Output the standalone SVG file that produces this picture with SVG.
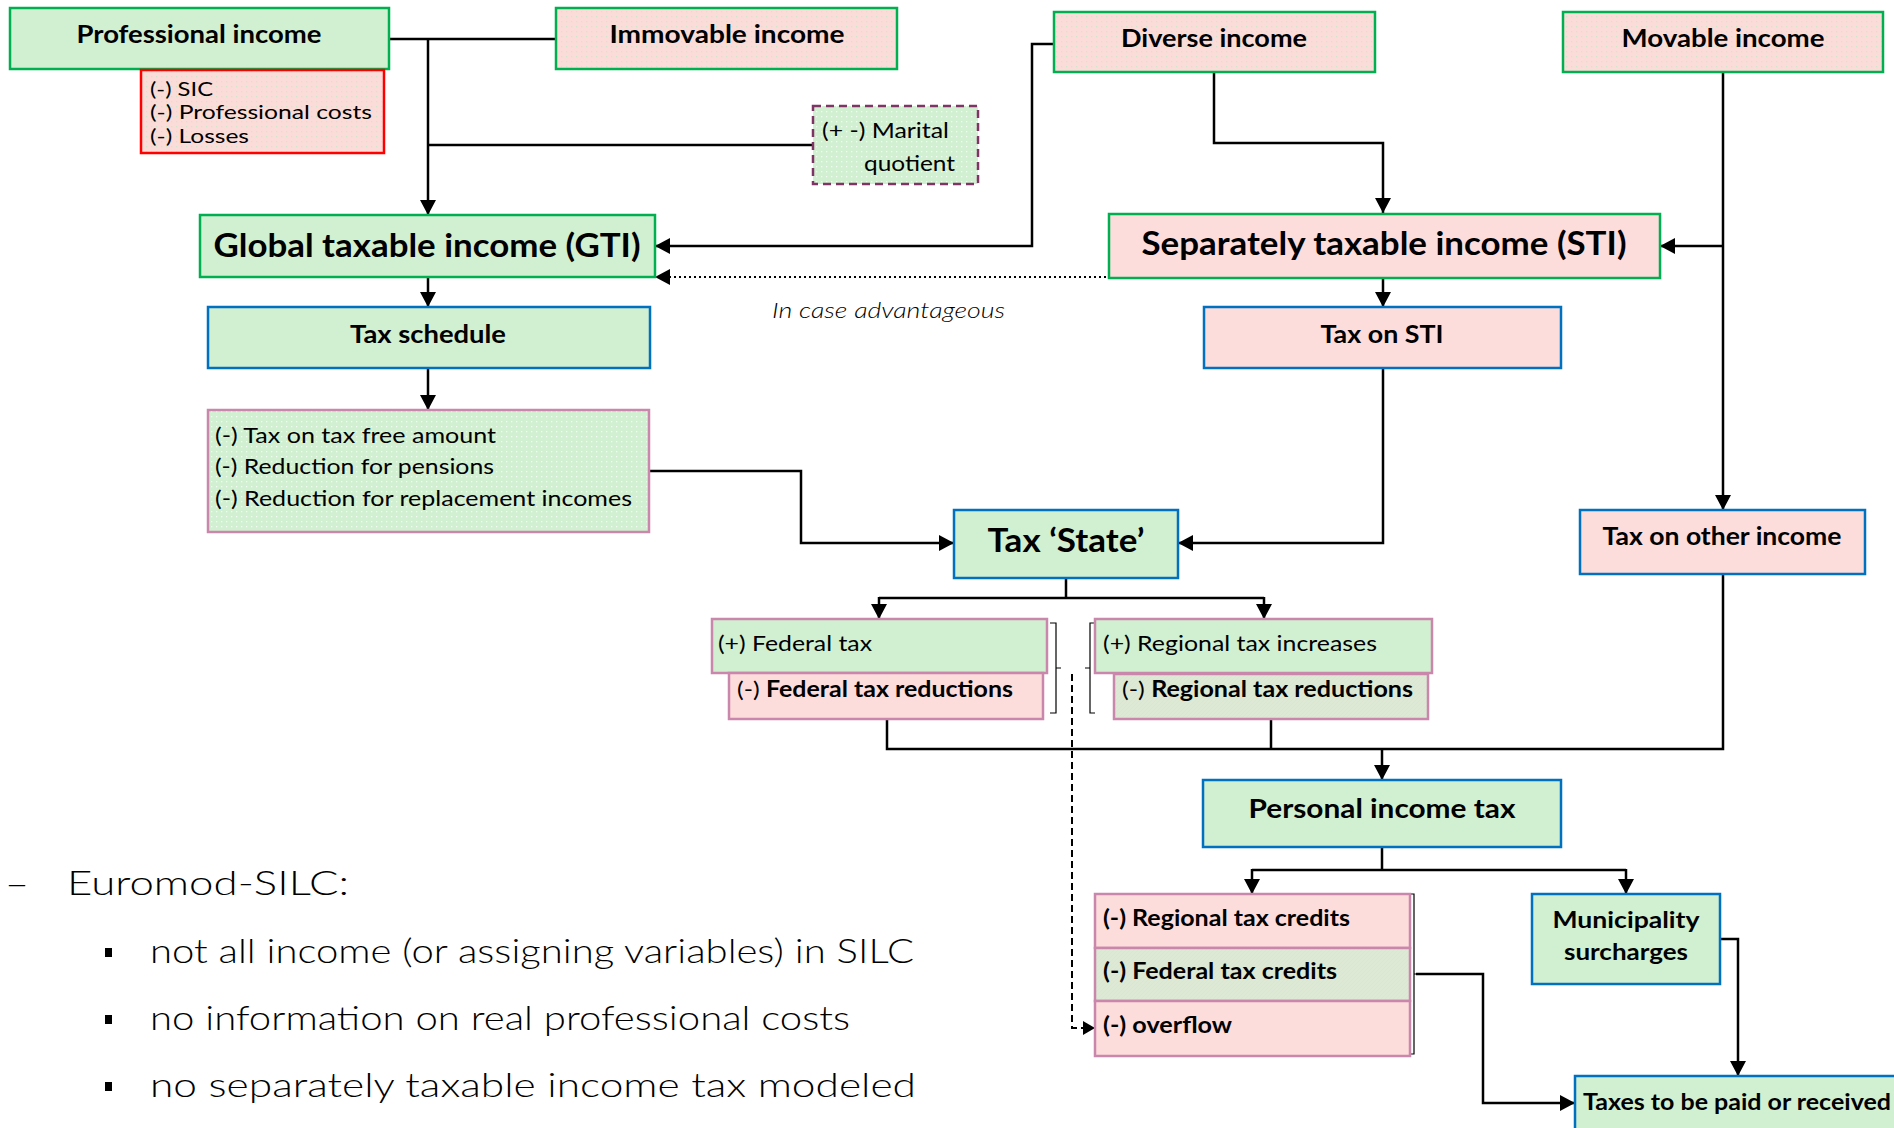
<svg xmlns="http://www.w3.org/2000/svg" width="1894" height="1128" viewBox="0 0 1894 1128">
<style>
text{font-family:Lato,"Open Sans","Liberation Sans",sans-serif;fill:#000}
.b{font-weight:700}
.r{font-weight:400}
.l{font-weight:300}
.it{font-weight:300;font-style:italic}
.gbox{fill:#d1efd1}
.pbox{fill:#fddcdc}
.sg{stroke:#00b050;stroke-width:2.5}
.sb{stroke:#0070c0;stroke-width:2.5}
.sp{stroke:#c987ab;stroke-width:2.5}
.conn{fill:none;stroke:#000;stroke-width:2.5}
.thin{fill:none;stroke:#000;stroke-width:1.2}
</style>
<defs>
<pattern id="pinkDots" width="5" height="5" patternUnits="userSpaceOnUse">
<rect width="5" height="5" fill="#fcdcd8"/>
<rect x="1" y="1" width="1.2" height="1.2" fill="#cfe8cc"/>
</pattern>
<pattern id="greenDots" width="5" height="5" patternUnits="userSpaceOnUse">
<rect width="5" height="5" fill="#d1efd1"/>
<rect x="1" y="1" width="1.3" height="1.3" fill="#f4fbf2"/>
</pattern>
<pattern id="mixHatch" width="4" height="4" patternUnits="userSpaceOnUse">
<rect width="4" height="4" fill="#dde9d5"/>
<path d="M0,4 L4,0" stroke="#f2d9d6" stroke-width="1"/>
</pattern>
<marker id="arr" viewBox="0 0 15 16" refX="15" refY="8" markerWidth="15" markerHeight="16" markerUnits="userSpaceOnUse" orient="auto">
<path d="M0,0 L15,8 L0,16 z" fill="#000"/>
</marker>
<marker id="arrS" viewBox="0 0 12 14" refX="12" refY="7" markerWidth="12" markerHeight="14" markerUnits="userSpaceOnUse" orient="auto">
<path d="M0,0 L12,7 L0,14 z" fill="#000"/>
</marker>
</defs>

<g id="connectors">
<path class="conn" d="M389,39 H556"/>
<path class="conn" d="M428,39 V215" marker-end="url(#arr)"/>
<path class="conn" d="M428,145 H813"/>
<path class="conn" d="M1053,44 H1032 V246 H655" marker-end="url(#arr)"/>
<path fill="none" stroke="#000" stroke-width="2.2" stroke-dasharray="2,3" d="M1111,277 H655" marker-end="url(#arr)"/>
<path class="conn" d="M1214,72 V143 H1383 V213" marker-end="url(#arr)"/>
<path class="conn" d="M1723,72 V510" marker-end="url(#arr)"/>
<path class="conn" d="M1723,246 H1660" marker-end="url(#arr)"/>
<path class="conn" d="M428,277 V307" marker-end="url(#arr)"/>
<path class="conn" d="M1383,278 V307" marker-end="url(#arr)"/>
<path class="conn" d="M428,368 V410" marker-end="url(#arr)"/>
<path class="conn" d="M649,471 H801 V543 H954" marker-end="url(#arr)"/>
<path class="conn" d="M1383,368 V543 H1178" marker-end="url(#arr)"/>
<path class="conn" d="M1066,578 V598 M879,598 H1264"/>
<path class="conn" d="M879,597 V619" marker-end="url(#arr)"/>
<path class="conn" d="M1264,597 V619" marker-end="url(#arr)"/>
<path class="conn" d="M887,719 V749 H1723 V574 M1271,719 V749"/>
<path class="conn" d="M1382,748 V780" marker-end="url(#arr)"/>
<path class="conn" d="M1382,847 V870 M1252,870 H1626"/>
<path class="conn" d="M1252,869 V894" marker-end="url(#arr)"/>
<path class="conn" d="M1626,869 V894" marker-end="url(#arr)"/>
<path class="conn" d="M1416,974 H1483 V1103 H1575" marker-end="url(#arr)"/>
<path class="conn" d="M1720,939 H1738 V1076" marker-end="url(#arr)"/>
<path fill="none" stroke="#000" stroke-width="2" stroke-dasharray="7,4" d="M1072,674 V1028 H1095" marker-end="url(#arrS)"/>
<path class="thin" d="M1050,623 H1056 V713 H1050 M1056,668 H1061"/>
<path class="thin" d="M1095,623 H1090 V713 H1095 M1090,668 H1085"/>
<path class="thin" d="M1410,894 H1414 V1054 H1410 M1414,974 H1417"/>
</g>

<g id="professional-income">
<rect x="10" y="8" width="379" height="61" class="gbox sg"/>
<text class="b" x="199" y="43" font-size="24" text-anchor="middle" textLength="245" lengthAdjust="spacingAndGlyphs">Professional income</text>
</g>
<g id="deductions">
<rect x="141" y="70" width="243" height="83" fill="url(#pinkDots)" stroke="#ff0000" stroke-width="2.5"/>
<text class="r" x="150" y="96" font-size="20" textLength="63" lengthAdjust="spacingAndGlyphs">(-) SIC</text>
<text class="r" x="150" y="119" font-size="20" textLength="222" lengthAdjust="spacingAndGlyphs">(-) Professional costs</text>
<text class="r" x="150" y="143" font-size="20" textLength="99" lengthAdjust="spacingAndGlyphs">(-) Losses</text>
</g>
<g id="immovable-income">
<rect x="556" y="8" width="341" height="61" fill="url(#pinkDots)" class="sg"/>
<text class="b" x="727" y="43" font-size="24" text-anchor="middle" textLength="235" lengthAdjust="spacingAndGlyphs">Immovable income</text>
</g>
<g id="marital-quotient">
<rect x="813" y="106" width="165" height="78" fill="url(#greenDots)" stroke="#7f3466" stroke-width="2.5" stroke-dasharray="8,5"/>
<text class="r" x="822" y="138" font-size="22" textLength="127" lengthAdjust="spacingAndGlyphs">(+ -) Marital</text>
<text class="r" x="864" y="171" font-size="22" textLength="91" lengthAdjust="spacingAndGlyphs">quotient</text>
</g>
<g id="diverse-income">
<rect x="1054" y="12" width="321" height="60" fill="url(#pinkDots)" class="sg"/>
<text class="b" x="1214" y="47" font-size="24" text-anchor="middle" textLength="186" lengthAdjust="spacingAndGlyphs">Diverse income</text>
</g>
<g id="movable-income">
<rect x="1563" y="12" width="320" height="60" fill="url(#pinkDots)" class="sg"/>
<text class="b" x="1723" y="47" font-size="24" text-anchor="middle" textLength="203" lengthAdjust="spacingAndGlyphs">Movable income</text>
</g>
<g id="gti">
<rect x="200" y="215" width="455" height="62" class="gbox sg"/>
<text class="b" x="427" y="257" font-size="33" text-anchor="middle" textLength="427" lengthAdjust="spacingAndGlyphs">Global taxable income (GTI)</text>
</g>
<g id="sti">
<rect x="1109" y="214" width="551" height="64" class="pbox sg"/>
<text class="b" x="1384" y="255" font-size="33" text-anchor="middle" textLength="485" lengthAdjust="spacingAndGlyphs">Separately taxable income (STI)</text>
</g>
<g id="in-case-advantageous">
<text class="it" x="772" y="318" font-size="22" textLength="233" lengthAdjust="spacingAndGlyphs">In case advantageous</text>
</g>
<g id="tax-schedule">
<rect x="208" y="307" width="442" height="61" class="gbox sb"/>
<text class="b" x="428" y="343" font-size="24" text-anchor="middle" textLength="156" lengthAdjust="spacingAndGlyphs">Tax schedule</text>
</g>
<g id="tax-on-sti">
<rect x="1204" y="307" width="357" height="61" class="pbox sb"/>
<text class="b" x="1382" y="343" font-size="24" text-anchor="middle" textLength="123" lengthAdjust="spacingAndGlyphs">Tax on STI</text>
</g>
<g id="reductions">
<rect x="208" y="410" width="441" height="122" fill="url(#greenDots)" class="sp"/>
<text class="r" x="215" y="443" font-size="22" textLength="281" lengthAdjust="spacingAndGlyphs">(-) Tax on tax free amount</text>
<text class="r" x="215" y="474" font-size="22" textLength="279" lengthAdjust="spacingAndGlyphs">(-) Reduction for pensions</text>
<text class="r" x="215" y="506" font-size="22" textLength="417" lengthAdjust="spacingAndGlyphs">(-) Reduction for replacement incomes</text>
</g>
<g id="tax-state">
<rect x="954" y="510" width="224" height="68" class="gbox sb"/>
<text class="b" x="1066" y="552" font-size="32" text-anchor="middle" textLength="157" lengthAdjust="spacingAndGlyphs">Tax ‘State’</text>
</g>
<g id="tax-on-other-income">
<rect x="1580" y="510" width="285" height="64" class="pbox sb"/>
<text class="b" x="1722" y="545" font-size="24" text-anchor="middle" textLength="239" lengthAdjust="spacingAndGlyphs">Tax on other income</text>
</g>
<g id="federal-tax">
<rect x="712" y="619" width="335" height="54" class="gbox sp"/>
<text class="r" x="718" y="651" font-size="22" textLength="154" lengthAdjust="spacingAndGlyphs">(+) Federal tax</text>
</g>
<g id="federal-tax-reductions">
<rect x="729" y="673" width="314" height="46" class="pbox sp"/>
<text x="737" y="697" font-size="22" textLength="276" lengthAdjust="spacingAndGlyphs"><tspan class="r">(-) </tspan><tspan class="b">Federal tax reductions</tspan></text>
</g>
<g id="regional-tax-increases">
<rect x="1095" y="619" width="337" height="54" class="gbox sp"/>
<text class="r" x="1103" y="651" font-size="22" textLength="274" lengthAdjust="spacingAndGlyphs">(+) Regional tax increases</text>
</g>
<g id="regional-tax-reductions">
<rect x="1114" y="674" width="314" height="45" fill="url(#mixHatch)" class="sp"/>
<text x="1122" y="697" font-size="22" textLength="291" lengthAdjust="spacingAndGlyphs"><tspan class="r">(-) </tspan><tspan class="b">Regional tax reductions</tspan></text>
</g>
<g id="personal-income-tax">
<rect x="1203" y="780" width="358" height="67" class="gbox sb"/>
<text class="b" x="1382" y="818" font-size="26" text-anchor="middle" textLength="267" lengthAdjust="spacingAndGlyphs">Personal income tax</text>
</g>
<g id="regional-tax-credits">
<rect x="1095" y="894" width="315" height="54" class="pbox sp"/>
<text class="b" x="1103" y="926" font-size="23" textLength="247" lengthAdjust="spacingAndGlyphs">(-) Regional tax credits</text>
</g>
<g id="federal-tax-credits">
<rect x="1095" y="948" width="315" height="53" fill="url(#mixHatch)" class="sp"/>
<text class="b" x="1103" y="979" font-size="23" textLength="234" lengthAdjust="spacingAndGlyphs">(-) Federal tax credits</text>
</g>
<g id="overflow">
<rect x="1095" y="1001" width="315" height="55" class="pbox sp"/>
<text class="b" x="1103" y="1033" font-size="23" textLength="129" lengthAdjust="spacingAndGlyphs">(-) overflow</text>
</g>
<g id="municipality-surcharges">
<rect x="1532" y="894" width="188" height="90" class="gbox sb"/>
<text class="b" x="1626" y="928" font-size="23" text-anchor="middle" textLength="147" lengthAdjust="spacingAndGlyphs">Municipality</text>
<text class="b" x="1626" y="960" font-size="23" text-anchor="middle" textLength="124" lengthAdjust="spacingAndGlyphs">surcharges</text>
</g>
<g id="taxes-to-be-paid">
<rect x="1575" y="1076" width="330" height="70" class="gbox sb"/>
<text class="b" x="1583" y="1110" font-size="23" textLength="308" lengthAdjust="spacingAndGlyphs">Taxes to be paid or received</text>
</g>

<g id="notes">
<text class="l" x="5" y="895" font-size="34" textLength="24" lengthAdjust="spacingAndGlyphs">–</text>
<text class="l" x="67" y="895" font-size="34" textLength="282" lengthAdjust="spacingAndGlyphs">Euromod-SILC:</text>
<rect x="105" y="948" width="7" height="9" fill="#000"/>
<rect x="105" y="1015" width="7" height="9" fill="#000"/>
<rect x="105" y="1082" width="7" height="9" fill="#000"/>
<text class="l" x="150" y="963" font-size="33" textLength="764" lengthAdjust="spacingAndGlyphs">not all income (or assigning variables) in SILC</text>
<text class="l" x="150" y="1030" font-size="33" textLength="700" lengthAdjust="spacingAndGlyphs">no information on real professional costs</text>
<text class="l" x="150" y="1097" font-size="33" textLength="766" lengthAdjust="spacingAndGlyphs">no separately taxable income tax modeled</text>
</g>
</svg>
